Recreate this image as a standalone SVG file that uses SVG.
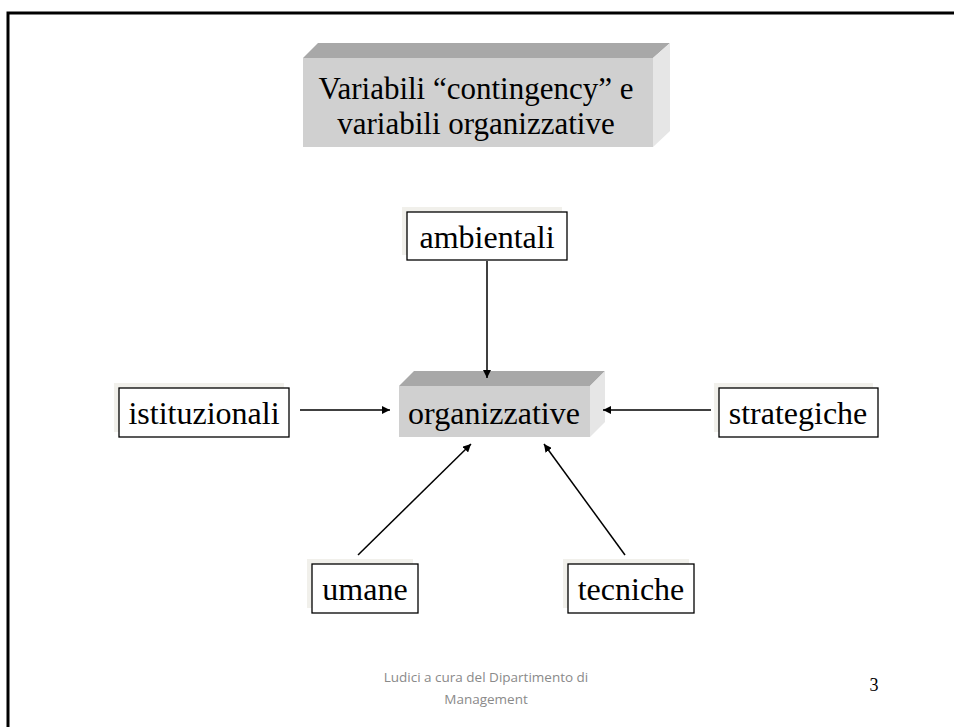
<svg xmlns="http://www.w3.org/2000/svg" width="954" height="727" viewBox="0 0 954 727">
<style>
.t{font-family:"Liberation Serif","Times New Roman",serif;font-size:32px;fill:#000;text-anchor:middle}
.tt{font-size:31px}
.num{font-family:"Liberation Serif","Times New Roman",serif;font-size:18px;fill:#000;text-anchor:middle}
.box{fill:#fff;stroke:#000;stroke-width:1.3}
.sh{fill:#f1f0eb}
.front{fill:#d0d0d0}
.top{fill:#a8a8a8}
.side{fill:#e6e6e6}
.c{stroke:#000;stroke-width:1.5;fill:none;marker-end:url(#ah)}
.ft{font-family:"Open Sans","Liberation Sans",sans-serif;font-size:13.5px;fill:#8a8a8a;text-anchor:middle}
</style>
<defs>
<marker id="ah" viewBox="0 0 10 10" refX="10" refY="5" markerWidth="8" markerHeight="8" markerUnits="userSpaceOnUse" orient="auto">
<path d="M0,0 L10,5 L0,10 z" fill="#000"/>
</marker>
</defs>
<rect width="954" height="727" fill="#fff"/>
<path d="M8,727 V13 H954" fill="none" stroke="#000" stroke-width="3"/>

<g id="title">
<polygon class="top" points="303,58 318,43 670,43 653,58"/>
<polygon class="side" points="653,58 670,43 670,131 653,147"/>
<rect class="front" x="303" y="58" width="350" height="89"/>
<text class="t tt" x="476" y="99">Variabili “contingency” e</text>
<text class="t tt" x="476" y="134">variabili organizzative</text>
</g>

<g id="organizzative">
<polygon class="top" points="399,386 414,371 605,371 590,386"/>
<polygon class="side" points="590,386 605,371 605,422 590,437"/>
<rect class="front" x="399" y="386" width="191" height="51"/>
<text class="t" x="494" y="424">organizzative</text>
</g>

<g id="ambientali">
<rect class="sh" x="402" y="207" width="160" height="48"/>
<rect class="box" x="407" y="212" width="160" height="48"/>
<text class="t" x="487" y="248">ambientali</text>
</g>

<g id="istituzionali">
<rect class="sh" x="114" y="383" width="170" height="49"/>
<rect class="box" x="119" y="388" width="170" height="49"/>
<text class="t" x="204" y="424">istituzionali</text>
</g>

<g id="strategiche">
<rect class="sh" x="714" y="383" width="159" height="49"/>
<rect class="box" x="719" y="388" width="159" height="49"/>
<text class="t" x="798" y="424">strategiche</text>
</g>

<g id="umane">
<rect class="sh" x="307" y="559" width="106" height="49"/>
<rect class="box" x="312" y="564" width="106" height="49"/>
<text class="t" x="365" y="600">umane</text>
</g>

<g id="tecniche">
<rect class="sh" x="563" y="559" width="126" height="49"/>
<rect class="box" x="568" y="564" width="126" height="49"/>
<text class="t" x="631" y="600">tecniche</text>
</g>

<g id="connectors">
<line class="c" x1="487" y1="261" x2="487" y2="378"/>
<line class="c" x1="300" y1="410" x2="390" y2="410"/>
<line class="c" x1="711" y1="410" x2="603" y2="410"/>
<line class="c" x1="358" y1="555" x2="471" y2="444"/>
<line class="c" x1="625" y1="555" x2="544" y2="444"/>
</g>

<g id="footer">
<text class="ft" x="486" y="682">Ludici a cura del Dipartimento di</text>
<text class="ft" x="486" y="704">Management</text>
<text class="num" x="874" y="691">3</text>
</g>
</svg>
